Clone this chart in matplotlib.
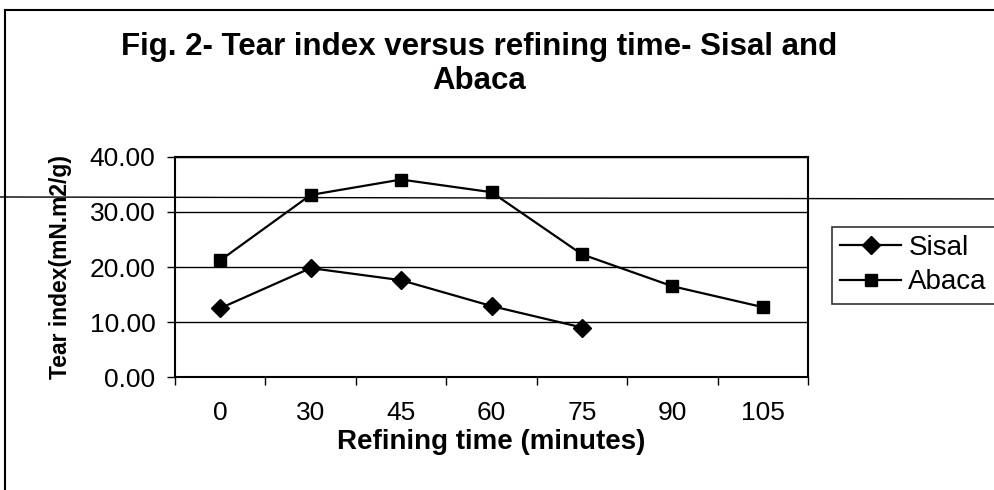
import numpy as np
import matplotlib.pyplot as plt
from matplotlib.lines import Line2D

plt.rcParams['font.family'] = ['Liberation Sans', 'DejaVu Sans']

times = ['0', '30', '45', '60', '75', '90', '105']
sisal = [12.5, 19.8, 17.6, 12.9, 9.0]
abaca = [21.2, 33.1, 35.9, 33.6, 22.3, 16.5, 12.7]

fig = plt.figure(figsize=(9.94, 4.9), dpi=100)
ax = fig.add_axes([0.176, 0.2306, 0.637, 0.449])

x = np.arange(len(times))
ax.plot(x[:len(sisal)], sisal, color='black', lw=1.6, marker='D',
        markersize=9, label='Sisal')
ax.plot(x, abaca, color='black', lw=1.6, marker='s', markersize=9,
        label='Abaca')

ax.set_xlim(-0.5, len(times) - 0.5)
ax.set_ylim(0, 40)
ax.set_yticks([0, 10, 20, 30, 40])
ax.set_yticklabels(['%.2f' % v for v in [0, 10, 20, 30, 40]])
ax.set_xticks(x)
ax.set_xticklabels(times)
ax.set_xticks(np.arange(len(times) + 1) - 0.5, minor=True)
ax.tick_params(axis='x', which='major', length=0, pad=17, labelsize=19)
ax.tick_params(axis='x', which='minor', length=6, direction='out', width=1)
ax.tick_params(axis='y', length=6, direction='out', width=1, labelsize=19,
               pad=8)
ax.grid(axis='y', color='black', lw=1)
ax.set_axisbelow(True)
for s in ax.spines.values():
    s.set_linewidth(1.5)

ax.set_xlabel('Refining time (minutes)', fontsize=20, fontweight='bold',
              labelpad=3)
ax.set_ylabel('Tear index(mN.m2/g)', fontsize=16.5, fontweight='bold',
              labelpad=13)

fig.text(0.482, 0.905, 'Fig. 2- Tear index versus refining time- Sisal and',
         fontsize=22.5, fontweight='bold', ha='center', va='center')
fig.text(0.482, 0.834, 'Abaca', fontsize=22.5, fontweight='bold',
         ha='center', va='center')

leg = fig.legend(loc='center left', bbox_to_anchor=(0.837, 0.459),
                 fontsize=20, frameon=True, fancybox=False,
                 edgecolor='black', handlelength=2.2, borderpad=0.3,
                 labelspacing=0.3, handletextpad=0.25, borderaxespad=0)
leg.get_frame().set_linewidth(1.2)

# border of the scanned chart and stray scan line
fig.add_artist(Line2D([0.005, 0.005], [0.0, 0.98], color='black', lw=1.5))
fig.add_artist(Line2D([0.005, 1.0], [0.98, 0.98], color='black', lw=1.5))
fig.add_artist(Line2D([0.0, 1.0], [0.598, 0.594], color='black', lw=1))

fig.savefig('out.png', dpi=100)
